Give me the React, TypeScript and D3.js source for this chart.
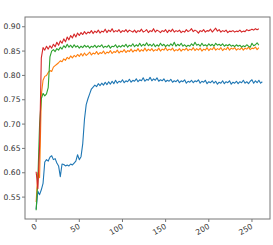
import React from "react";
import * as d3 from "d3";

const W = 273;
const H = 245;
const M = { left: 25, right: 3, top: 17, bottom: 26 };

const STEP = 2;

const blue = [
  0.525, 0.562, 0.555, 0.565, 0.578, 0.622, 0.627, 0.624, 0.632, 0.635, 0.627, 0.629, 0.62, 0.614, 0.592, 0.618,
  0.617, 0.614, 0.616, 0.614, 0.618, 0.616, 0.62, 0.624, 0.637, 0.627, 0.633, 0.66, 0.71, 0.74, 0.752, 0.762,
  0.772, 0.776, 0.78, 0.777, 0.783, 0.779, 0.784, 0.78, 0.786, 0.781, 0.787, 0.782, 0.788, 0.783, 0.79, 0.784,
  0.788, 0.786, 0.791, 0.785, 0.789, 0.787, 0.792, 0.786, 0.79, 0.788, 0.793, 0.787, 0.791, 0.789, 0.795, 0.788,
  0.792, 0.79, 0.796, 0.789, 0.793, 0.79, 0.795, 0.788, 0.791, 0.789, 0.793, 0.787, 0.79, 0.788, 0.792, 0.786,
  0.789, 0.787, 0.791, 0.785, 0.789, 0.787, 0.791, 0.784, 0.788, 0.786, 0.79, 0.785, 0.789, 0.787, 0.791, 0.784,
  0.788, 0.786, 0.79, 0.783, 0.787, 0.785, 0.789, 0.784, 0.788, 0.782, 0.786, 0.784, 0.789, 0.783, 0.787, 0.785,
  0.789, 0.782, 0.786, 0.784, 0.788, 0.783, 0.787, 0.785, 0.79, 0.784, 0.787, 0.783, 0.788, 0.791, 0.784, 0.789,
  0.785, 0.79, 0.784, 0.787,
];

const orange = [
  0.54, 0.6, 0.59, 0.76, 0.79, 0.798, 0.8, 0.806, 0.81, 0.808, 0.817, 0.82, 0.823, 0.826, 0.83, 0.828,
  0.834, 0.831, 0.837, 0.834, 0.84, 0.836, 0.841, 0.838, 0.843, 0.839, 0.845, 0.84, 0.846, 0.841, 0.844, 0.848,
  0.842, 0.846, 0.844, 0.849, 0.843, 0.847, 0.845, 0.85, 0.844, 0.848, 0.846, 0.851, 0.845, 0.849, 0.847, 0.852,
  0.846, 0.85, 0.848, 0.853, 0.847, 0.851, 0.849, 0.854, 0.848, 0.852, 0.85, 0.855, 0.849, 0.853, 0.85, 0.856,
  0.85, 0.854, 0.851, 0.855, 0.85, 0.853, 0.851, 0.856, 0.85, 0.854, 0.852, 0.857, 0.851, 0.854, 0.852, 0.856,
  0.85, 0.853, 0.851, 0.855, 0.85, 0.854, 0.852, 0.856, 0.851, 0.854, 0.852, 0.857, 0.851, 0.855, 0.852, 0.856,
  0.85, 0.854, 0.852, 0.857, 0.851, 0.855, 0.853, 0.858, 0.852, 0.855, 0.853, 0.857, 0.851, 0.855, 0.853, 0.858,
  0.852, 0.856, 0.854, 0.857, 0.852, 0.855, 0.853, 0.857, 0.852, 0.856, 0.854, 0.858, 0.853, 0.856, 0.855, 0.858,
  0.853, 0.857,
];

const green = [
  0.523, 0.585, 0.7, 0.752, 0.763, 0.758, 0.762, 0.775, 0.838, 0.85, 0.853, 0.849, 0.855, 0.852, 0.858, 0.854,
  0.861, 0.857, 0.864, 0.858, 0.862, 0.857, 0.863, 0.858, 0.861, 0.856, 0.86, 0.857, 0.862, 0.858, 0.861, 0.856,
  0.86, 0.858, 0.862, 0.857, 0.861, 0.859, 0.863, 0.857, 0.86, 0.858, 0.862, 0.856, 0.86, 0.859, 0.863, 0.857,
  0.861, 0.858, 0.862, 0.859, 0.864, 0.858, 0.862, 0.86, 0.865, 0.859, 0.863, 0.86, 0.866, 0.86, 0.864, 0.861,
  0.867, 0.861, 0.864, 0.86, 0.865, 0.859, 0.863, 0.86, 0.866, 0.861, 0.864, 0.859, 0.863, 0.86, 0.865, 0.861,
  0.868, 0.86, 0.864, 0.861, 0.866, 0.86, 0.863, 0.859, 0.862, 0.86, 0.865, 0.861, 0.868, 0.862, 0.864, 0.86,
  0.866, 0.861, 0.863, 0.86, 0.865, 0.861, 0.864, 0.86, 0.866, 0.862, 0.864, 0.861, 0.865, 0.86, 0.863, 0.861,
  0.864, 0.86, 0.862, 0.859, 0.863, 0.86, 0.862, 0.858, 0.861, 0.859, 0.863, 0.86, 0.858, 0.866, 0.861, 0.863,
  0.867, 0.862,
];

const red = [
  0.602, 0.567, 0.655, 0.836, 0.857, 0.852, 0.86, 0.854, 0.861, 0.856, 0.864, 0.859, 0.868, 0.862, 0.871, 0.866,
  0.875, 0.869, 0.879, 0.873, 0.882, 0.877, 0.885, 0.879, 0.887, 0.882, 0.888, 0.884, 0.89, 0.885, 0.889, 0.887,
  0.892, 0.886, 0.891, 0.888, 0.893, 0.887, 0.891, 0.889, 0.895, 0.888, 0.893, 0.89, 0.896, 0.889, 0.892, 0.89,
  0.894, 0.888, 0.892, 0.89, 0.894, 0.889, 0.893, 0.891, 0.889, 0.893, 0.888, 0.892, 0.89, 0.895, 0.889, 0.891,
  0.894, 0.888, 0.892, 0.89, 0.896, 0.889, 0.893, 0.891, 0.888, 0.892, 0.89, 0.894, 0.888, 0.893, 0.89, 0.895,
  0.889, 0.892, 0.89, 0.893, 0.888, 0.891, 0.889, 0.894, 0.89, 0.892, 0.896, 0.89, 0.893, 0.891, 0.887, 0.892,
  0.89, 0.894, 0.889, 0.892, 0.891, 0.895, 0.889, 0.893, 0.897, 0.891, 0.894, 0.889, 0.892, 0.89, 0.893, 0.888,
  0.891, 0.89, 0.892, 0.889, 0.891, 0.89, 0.893, 0.889, 0.891, 0.89, 0.894, 0.892, 0.893, 0.895, 0.893, 0.896,
  0.894, 0.896,
];

const series = [
  { name: "blue", values: blue, color: "#1f77b4" },
  { name: "orange", values: orange, color: "#ff7f0e" },
  { name: "green", values: green, color: "#2ca02c" },
  { name: "red", values: red, color: "#d62728" },
];

const xTicks = [0, 50, 100, 150, 200, 250];
const yTicks = [0.55, 0.6, 0.65, 0.7, 0.75, 0.8, 0.85, 0.9];

const FONT = "DejaVu Sans, sans-serif";

export default function App() {
  const x = d3
    .scaleLinear()
    .domain([-12.9, 270.9])
    .range([M.left, W - M.right]);
  const y = d3
    .scaleLinear()
    .domain([0.505, 0.92])
    .range([H - M.bottom, M.top]);

  const line = d3
    .line<number>()
    .x((_, i) => x(i * STEP))
    .y((d) => y(d));

  const bottom = H - M.bottom;

  return (
    <svg
      width={W}
      height={H}
      style={{ position: "absolute", left: 0, top: 0, background: "white" }}
    >
      <g>
        {series.map((s) => (
          <path
            key={s.name}
            d={line(s.values) ?? ""}
            fill="none"
            stroke={s.color}
            strokeWidth={1.1}
            strokeLinejoin="round"
          />
        ))}
      </g>

      <rect
        x={M.left}
        y={M.top}
        width={W - M.left - M.right}
        height={H - M.top - M.bottom}
        fill="none"
        stroke="#777"
        strokeWidth={1}
      />

      {yTicks.map((t) => (
        <g key={t} transform={`translate(${M.left},${y(t)})`}>
          <line x1={-3} x2={0} stroke="#777" />
          <text
            x={-4.5}
            dy="0.35em"
            textAnchor="end"
            fontFamily={FONT}
            fontSize={7.6}
            fill="#333"
          >
            {t.toFixed(2)}
          </text>
        </g>
      ))}

      {xTicks.map((t) => (
        <g key={t} transform={`translate(${x(t)},${bottom})`}>
          <line y1={0} y2={3} stroke="#777" />
          <text
            transform="translate(-1.5,4) rotate(-30)"
            dy="0.75em"
            textAnchor="end"
            fontFamily={FONT}
            fontSize={7.6}
            fill="#333"
          >
            {t}
          </text>
        </g>
      ))}
    </svg>
  );
}
